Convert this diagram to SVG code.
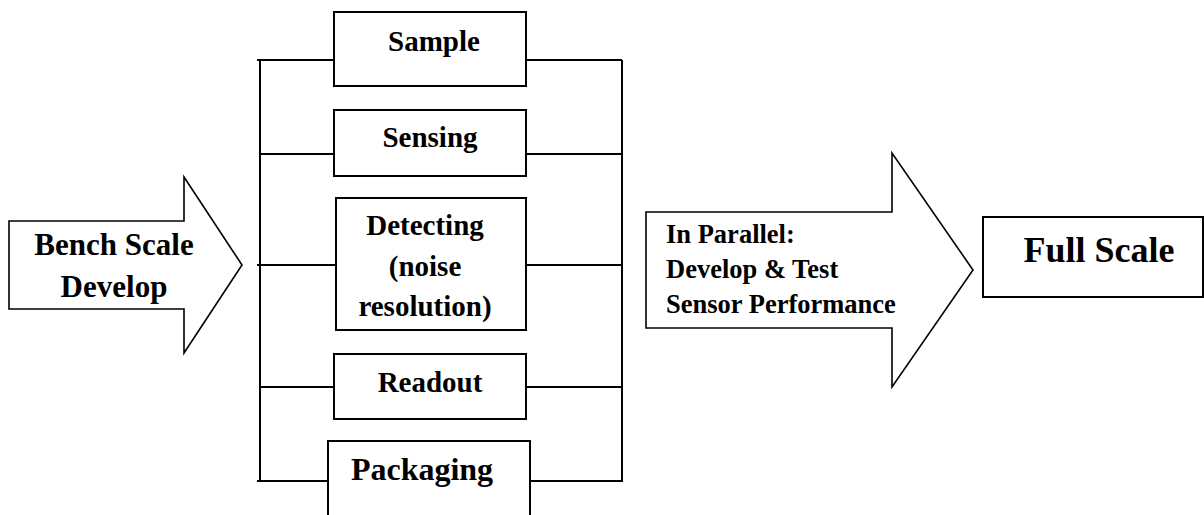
<svg xmlns="http://www.w3.org/2000/svg" width="1204" height="515" viewBox="0 0 1204 515">
<style>
  .shape { fill: #ffffff; stroke: #000000; stroke-width: 2; }
  .arrow { fill: #ffffff; stroke: #000000; stroke-width: 1.6; stroke-linejoin: miter; }
  .wire { fill: none; stroke: #000000; stroke-width: 2; }
  text { font-family: "Liberation Serif", "Times New Roman", serif; font-weight: bold; fill: #000000; }
  .c { text-anchor: middle; }
</style>
<rect x="0" y="0" width="1204" height="515" fill="#ffffff"/>
<g id="connectors">
  <path class="wire" d="M260 60 V482 M622 60 V482"/>
  <path class="wire" d="M257 60 H334 M526 60 H622"/>
  <path class="wire" d="M261 154 H337 M526 154 H622"/>
  <path class="wire" d="M257 265 H336 M526 265 H622"/>
  <path class="wire" d="M261 387 H337 M526 387 H622"/>
  <path class="wire" d="M257 481 H328 M530 481 H622"/>
</g>
<g id="bench-scale">
  <polygon class="arrow" points="9,221 184,221 184,177 242,265 184,353 184,309 9,309"/>
  <text class="c" x="114" y="255" font-size="31">Bench Scale</text>
  <text class="c" x="114" y="297" font-size="31">Develop</text>
</g>
<g id="sample">
  <rect class="shape" x="334" y="12" width="192" height="74"/>
  <text class="c" x="434" y="51" font-size="29">Sample</text>
</g>
<g id="sensing">
  <rect class="shape" x="334" y="110" width="192" height="66"/>
  <text class="c" x="430" y="147" font-size="29">Sensing</text>
</g>
<g id="detecting">
  <rect class="shape" x="336" y="198" width="190" height="132"/>
  <text class="c" x="425" y="235" font-size="29">Detecting</text>
  <text class="c" x="425" y="276" font-size="29">(noise</text>
  <text class="c" x="425" y="316" font-size="29">resolution)</text>
</g>
<g id="readout">
  <rect class="shape" x="334" y="354" width="192" height="65"/>
  <text class="c" x="430" y="392" font-size="29">Readout</text>
</g>
<g id="packaging">
  <rect class="shape" x="328" y="441" width="202" height="80"/>
  <text class="c" x="422" y="480" font-size="32">Packaging</text>
</g>
<g id="in-parallel">
  <polygon class="arrow" points="646,212 892,212 892,153 973,270 892,387 892,328 646,328"/>
  <text x="666" y="243" font-size="26.5">In Parallel:</text>
  <text x="666" y="278" font-size="26.5">Develop &amp; Test</text>
  <text x="666" y="313" font-size="26.5">Sensor Performance</text>
</g>
<g id="full-scale">
  <rect class="shape" x="983" y="217" width="220" height="80"/>
  <text class="c" x="1099" y="262" font-size="36">Full Scale</text>
</g>
</svg>
